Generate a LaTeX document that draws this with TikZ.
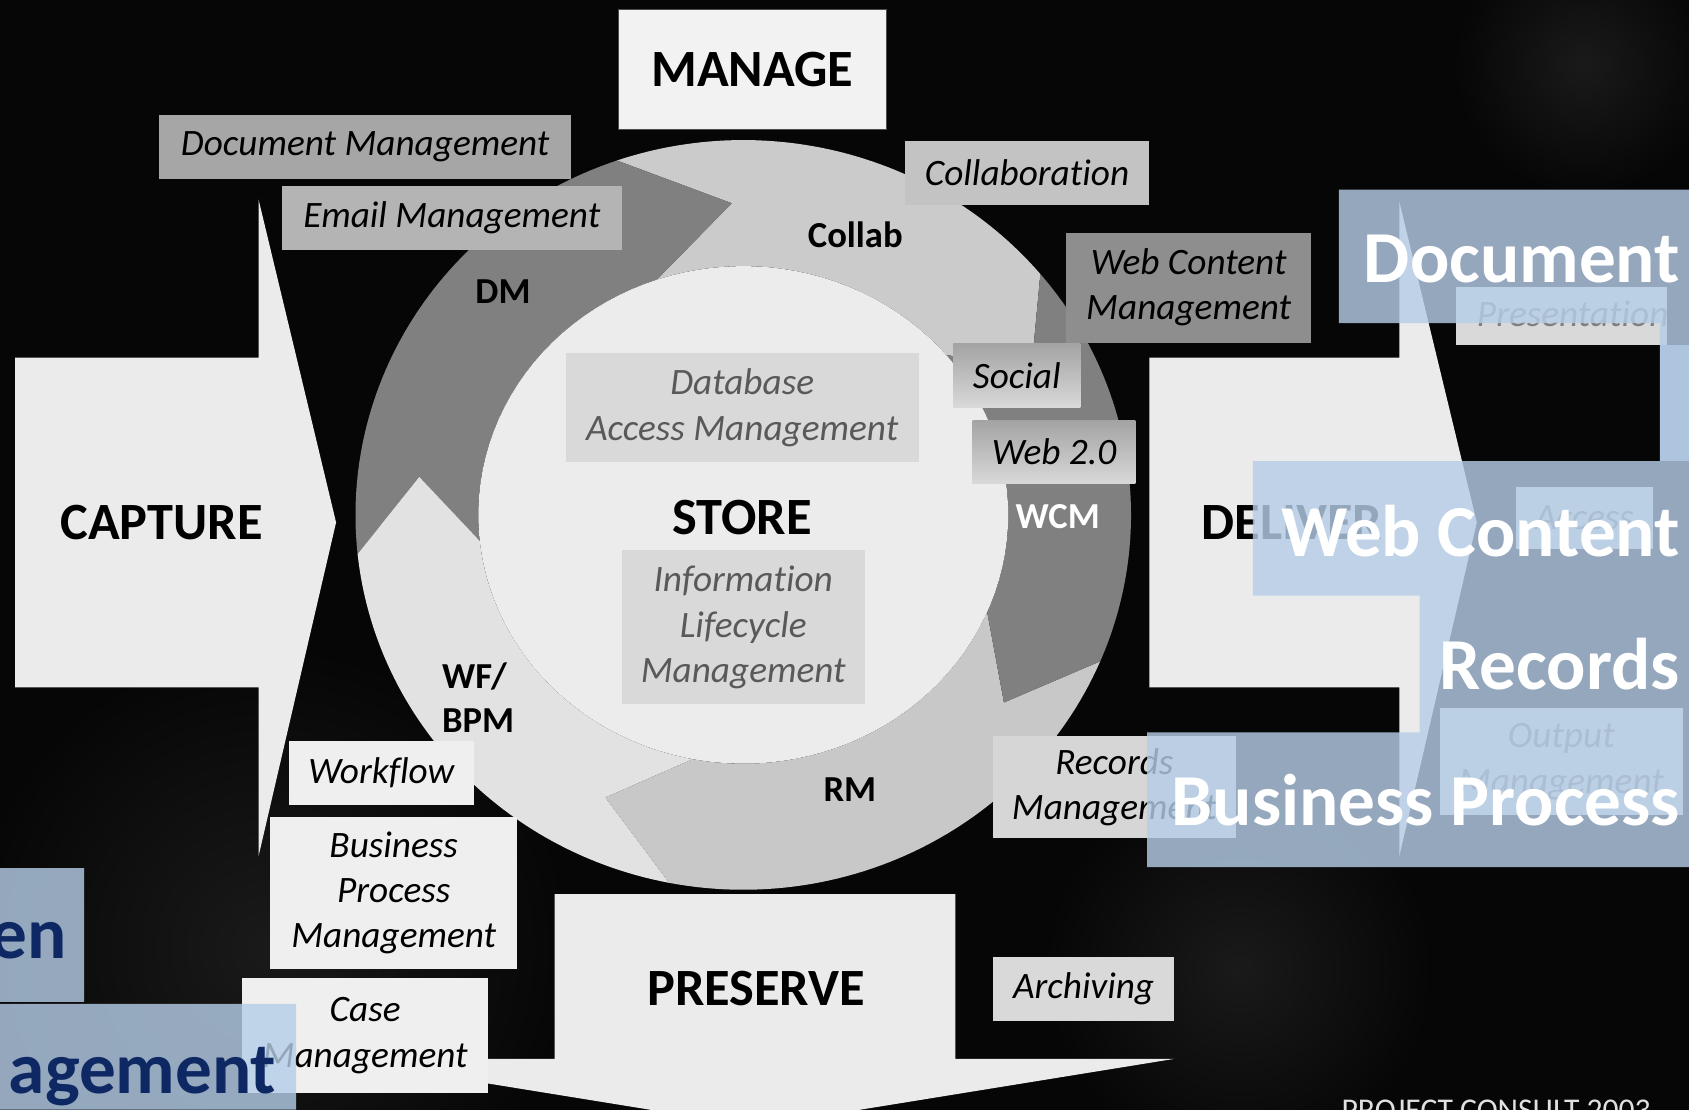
\documentclass[tikz,border=0pt]{standalone}
\usepackage{fontspec}
\setmainfont{Carlito}[Ligatures={NoCommon}]
\definecolor{bgc}{HTML}{060606}
\definecolor{lightarrow}{HTML}{EBEBEB}
\definecolor{managec}{HTML}{F2F2F2}
\definecolor{collabc}{HTML}{CBCBCB}
\definecolor{rmc}{HTML}{C8C8C8}
\definecolor{darkring}{HTML}{808080}
\definecolor{wfc}{HTML}{E2E2E2}
\definecolor{innerc}{HTML}{ECECEC}
\definecolor{docmc}{HTML}{A6A6A6}
\definecolor{emailc}{HTML}{B4B4B4}
\definecolor{collabbox}{HTML}{C3C3C3}
\definecolor{wcmbox}{HTML}{8E8E8E}
\definecolor{storebox}{HTML}{D9D9D9}
\definecolor{whitebox}{HTML}{EFEFEF}
\definecolor{recbox}{HTML}{D6D6D6}
\definecolor{storetext}{HTML}{595959}
\definecolor{fadetext}{HTML}{7F7F7F}
\definecolor{bluebox}{RGB}{181,205,232}
\definecolor{navytext}{RGB}{14,40,100}
\definecolor{texturec}{HTML}{1A1A1A}
\newcommand{\ringarrow}[5]{%
  \fill[#1] plot[domain=#2:#3, samples=60] ({690+360*cos(\x)},{478-348*sin(\x)})
    -- ({690+303*cos(#3-#4)},{478-289.5*sin(#3-#4)})
    -- plot[domain=#3:#2, samples=60] ({690+246*cos(\x)},{478-231*sin(\x)})
    -- ({690+303*cos(#2-#5)},{478-289.5*sin(#2-#5)}) -- cycle;}
\begin{document}
\begin{tikzpicture}[x=0.5pt,y=-0.5pt,
  lbl/.style={font=\fontsize{17.3}{21}\selectfont\itshape, align=center, inner sep=0pt, text=black},
  hd/.style={font=\fontsize{24.3}{29}\selectfont\bfseries, inner sep=0pt, text=black},
  rl/.style={font=\fontsize{17}{20.5}\selectfont\bfseries, inner sep=0pt, text=black, align=left},
  big/.style={font=\fontsize{34}{40}\selectfont\bfseries, inner sep=0pt, text=white},
  navybig/.style={font=\fontsize{34}{40}\selectfont\bfseries, inner sep=0pt, text=navytext},
  bigarrow/.style={fill=lightarrow},
  bluepane/.style={fill=bluebox, fill opacity=0.81},
  gradbox/.style={top color=gray!72, bottom color=gray!30, inner sep=0pt}]
\useasboundingbox (0,0) rectangle (1568,1030);
\clip (0,0) rectangle (1568,1030);
\fill[bgc] (0,0) rectangle (1568,1030);
% faint background texture
\shade[inner color=texturec, outer color=bgc] (250,880) circle[radius=140pt];
\shade[inner color=texturec, outer color=bgc] (1470,60) circle[radius=60pt];
\shade[inner color=texturec, outer color=bgc] (1150,900) circle[radius=90pt];

% CAPTURE arrow
\fill[bigarrow] (14,332) -- (240,332) -- (240,185) -- (312,485) -- (240,795) -- (240,638) -- (14,638) -- cycle;
% DELIVER arrow
\fill[bigarrow] (1067,332) -- (1299,332) -- (1299,187) -- (1371,485) -- (1299,795) -- (1299,638) -- (1067,638) -- cycle;
% PRESERVE arrow
\fill[bigarrow] (515,830) -- (887,830) -- (887,983) -- (1090,983) -- (701,1046) -- (312,983) -- (515,983) -- cycle;

% MANAGE box
\node[hd, fill=managec, draw=black!70, line width=0.6pt, minimum width=124.5pt, minimum height=55.5pt] (manage) at (698.5,64.5) {MANAGE};

% ring of arrows
\ringarrow{collabc}{109}{40}{12}{17}
\ringarrow{darkring}{186}{109}{17}{13}
\ringarrow{wfc}{259}{186}{13}{14}
\ringarrow{rmc}{337}{259}{14}{14}
\ringarrow{darkring}{40}{-23}{14}{12}
\fill[innerc] plot[domain=0:360, samples=120] ({690+246*cos(\x)},{478-231*sin(\x)}) -- cycle;

% ring labels
\node[rl] (dm) at (467,271) {DM};
\node[rl] (collab) at (794,218) {Collab};
\node[rl, text=white] (wcm) at (982,480) {WCM};
\node[rl] (rm) at (789,733) {RM};
\node[rl, anchor=west] (wfbpm) at (410,648) {WF/\\BPM};

% label boxes
\node[lbl, fill=docmc, minimum width=191pt, minimum height=29.5pt] (docm) at (339,136.5) {Document Management};
\node[lbl, fill=emailc, minimum width=157.5pt, minimum height=29.5pt] (email) at (419.5,202.5) {Email Management};
\node[lbl, fill=collabbox, minimum width=113.5pt, minimum height=29.5pt] (collabo) at (953.5,160.5) {Collaboration};
\node[lbl, fill=wcmbox, minimum width=113.5pt, minimum height=51pt] (webcm) at (1103.5,267) {Web Content\\Management};
\node[lbl, gradbox, minimum width=59pt, minimum height=29.5pt] (social) at (944,348.5) {Social};
\node[lbl, gradbox, minimum width=75.5pt, minimum height=29.5pt] (web20) at (978.5,419.5) {Web 2.0};
\node[lbl, fill=storebox, text=storetext, minimum width=164pt, minimum height=50.5pt] (dbam) at (689,378.5) {Database\\Access Management};
\node[lbl, fill=storebox, text=storetext, minimum width=113pt, minimum height=71.5pt] (ilm) at (690,582.5) {Information\\Lifecycle\\Management};
\node[lbl, fill=whitebox, minimum width=86pt, minimum height=29.5pt] (workflow) at (354,717.5) {Workflow};
\node[lbl, fill=whitebox, minimum width=114.5pt, minimum height=71pt] (bpmbox) at (365.5,829) {Business\\Process\\Management};
\node[lbl, fill=whitebox, minimum width=114pt, minimum height=53.5pt] (casem) at (339,961.5) {Case\\Management};
\node[lbl, fill=recbox, minimum width=112.5pt, minimum height=47.5pt] (recm) at (1034.5,730.5) {Records\\Management};
\node[lbl, fill=storebox, minimum width=84pt, minimum height=30pt] (arch) at (1006,918) {Archiving};

% headings
\node[hd] (capture) at (150,485) {CAPTURE};
\node[hd] (store) at (689,480) {STORE};
\node[hd] (preserve) at (702,918) {PRESERVE};
\node[hd, anchor=west] (deliver) at (1115,485) {DELIVER};

% faded boxes on the right
\node[fill=storebox, inner sep=0pt, minimum width=98pt, minimum height=27pt] (presbox) at (1450,293) {};
\node[lbl, text=fadetext] (pres) at (1460,291) {Presentation};
\node[lbl, fill=storebox, text=fadetext, minimum width=64pt, minimum height=29pt] (access) at (1471,481) {Access};
\node[lbl, fill=storebox, text=fadetext, minimum width=112.5pt, minimum height=50pt] (output) at (1449.5,707) {Output\\Management};

% translucent blue panes
\path[bluepane] (1243,176) rectangle (1568,300)
  (1541,300) rectangle (1568,428)
  (1163,428) rectangle (1568,553)
  (1318,553) rectangle (1568,680)
  (1065,680) rectangle (1568,805);
\path[bluepane] (1541,320) rectangle (1568,428);
\path[bluepane] (0,806) rectangle (78,930)
  (0,932) rectangle (275,1030);

% overlay texts
\node[big, anchor=base east] (tdoc) at (1560,262) {Document};
\node[big, anchor=base east] (twcm) at (1560,517) {Web Content};
\node[big, anchor=base east] (trec) at (1560,640) {Records};
\node[big, anchor=base east] (tbp) at (1560,766) {Business Process};
\node[navybig, anchor=base east] (ten) at (62,890) {en};
\node[navybig, anchor=base east] (tagem) at (257,1015) {agement};

% footer
\node[font=\fontsize{14.7}{17}\selectfont, text=white!88!black, inner sep=0pt, anchor=base west] (footer) at (1245,1040) {PROJECT CONSULT 2003};
\end{tikzpicture}
\end{document}
